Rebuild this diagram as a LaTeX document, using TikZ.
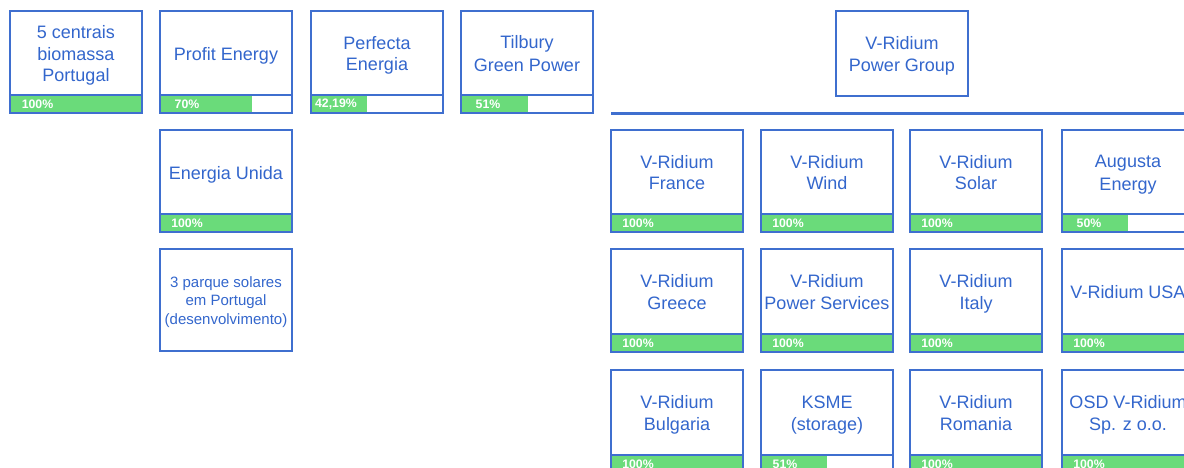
\documentclass[tikz,border=0pt]{standalone}
\usepackage{fontspec}
\setmainfont{Liberation Sans}
\usepackage{tikz}
\definecolor{rahmenblau}{RGB}{63,111,207}
\definecolor{textblau}{RGB}{51,102,204}
\definecolor{balkengruen}{RGB}{106,219,122}
\newcommand{\zg}{\rule[-3.6pt]{0pt}{21.5pt}}
\newcommand{\zk}{\rule[-3.4pt]{0pt}{18.5pt}}
\tikzset{
  rahmen/.style={draw=rahmenblau, line width=1.6pt},
  balken/.style={fill=balkengruen},
  firma/.style={text=textblau, align=center, inner sep=0pt, font=\fontsize{18}{21.5}\selectfont},
  firmaklein/.style={text=textblau, align=center, inner sep=0pt, font=\fontsize{15}{18.5}\selectfont},
  anteil/.style={text=white, font=\bfseries\fontsize{12.3}{14}\selectfont}
}

\begin{document}
\begin{tikzpicture}[x=1pt,y=-1pt] % boxbreite=132, boxhoehe=102
\useasboundingbox (0,0) rectangle (1184,468);
\clip (0,0) rectangle (1184,468);

%ZEILE NR. 0 (von oben)

%ELEMENT IN SPALTE NR. 0 (von links)
\fill [balken] (10,95) rectangle (142,113);
\draw [rahmen] (10,11) rectangle (142,113);
\draw [rahmen] (10,95) -- (142,95);
\node [firma] (bio) at (76,53) {\zg 5 centrais\\\zg biomassa\\\zg Portugal};
\node [anteil] (biopct) at (37.5,104) {100\%};

%ELEMENT IN SPALTE NR. 1 (von links)
\fill [balken] (160,95) rectangle (252.4,113);
\draw [rahmen] (160,11) rectangle (292,113);
\draw [rahmen] (160,95) -- (292,95);
\node [firma] (profit) at (226,53) {\zg Profit Energy};
\node [anteil] (profitpct) at (187,104) {70\%};

%ELEMENT IN SPALTE NR. 2 (von links)
\fill [balken] (311,95) rectangle (366.7,113);
\draw [rahmen] (311,11) rectangle (443,113);
\draw [rahmen] (311,95) -- (443,95);
\node [firma] (perfecta) at (377,53) {\zg Perfecta\\\zg Energia};
\node [anteil] (perfectapct) at (336,104) {42,19\%};

%ELEMENT IN SPALTE NR. 3 (von links)
\fill [balken] (461,95) rectangle (528.3,113);
\draw [rahmen] (461,11) rectangle (593,113);
\draw [rahmen] (461,95) -- (593,95);
\node [firma] (tilbury) at (527,53) {\zg Tilbury\\\zg Green Power};
\node [anteil] (tilburypct) at (488,104) {51\%};

%MUTTERGESELLSCHAFT
\draw [rahmen] (836,11) rectangle (968,96);
\node [firma] (group) at (902,53.5) {\zg V-Ridium\\\zg Power Group};
\draw [rahmenblau, line width=3.3pt] (611,113.3) -- (1184,113.3);




%ZEILE NR. 1 (von oben)

%ELEMENT IN SPALTE NR. 1 (von links)
\fill [balken] (160,214) rectangle (292,232);
\draw [rahmen] (160,130) rectangle (292,232);
\draw [rahmen] (160,214) -- (292,214);
\node [firma] (unida) at (226,172) {\zg Energia Unida};
\node [anteil] (unidapct) at (187,223) {100\%};

%ELEMENT IN SPALTE NR. 4 (von links)
\fill [balken] (611,214) rectangle (743,232);
\draw [rahmen] (611,130) rectangle (743,232);
\draw [rahmen] (611,214) -- (743,214);
\node [firma] (france) at (677,172) {\zg V-Ridium\\\zg France};
\node [anteil] (francepct) at (638,223) {100\%};

%ELEMENT IN SPALTE NR. 5 (von links)
\fill [balken] (761,214) rectangle (893,232);
\draw [rahmen] (761,130) rectangle (893,232);
\draw [rahmen] (761,214) -- (893,214);
\node [firma] (wind) at (827,172) {\zg V-Ridium\\\zg Wind};
\node [anteil] (windpct) at (788,223) {100\%};

%ELEMENT IN SPALTE NR. 6 (von links)
\fill [balken] (910,214) rectangle (1042,232);
\draw [rahmen] (910,130) rectangle (1042,232);
\draw [rahmen] (910,214) -- (1042,214);
\node [firma] (solar) at (976,172) {\zg V-Ridium\\\zg Solar};
\node [anteil] (solarpct) at (937,223) {100\%};

%ELEMENT IN SPALTE NR. 7 (von links)
\fill [balken] (1062,214) rectangle (1128,232);
\draw [rahmen] (1062,130) rectangle (1194,232);
\draw [rahmen] (1062,214) -- (1194,214);
\node [firma] (augusta) at (1128,172) {\zg Augusta\\\zg Energy};
\node [anteil] (augustapct) at (1089,223) {50\%};




%ZEILE NR. 2 (von oben)

%ELEMENT IN SPALTE NR. 1 (von links)
\draw [rahmen] (160,249) rectangle (292,351);
\node [firmaklein] (parque) at (226,300) {\zk 3 parque solares\\\zk em Portugal\\\zk (desenvolvimento)};

%ELEMENT IN SPALTE NR. 4 (von links)
\fill [balken] (611,334) rectangle (743,352);
\draw [rahmen] (611,249) rectangle (743,352);
\draw [rahmen] (611,334) -- (743,334);
\node [firma] (greece) at (677,291.5) {\zg V-Ridium\\\zg Greece};
\node [anteil] (greecepct) at (638,343) {100\%};

%ELEMENT IN SPALTE NR. 5 (von links)
\fill [balken] (761,334) rectangle (893,352);
\draw [rahmen] (761,249) rectangle (893,352);
\draw [rahmen] (761,334) -- (893,334);
\node [firma] (services) at (827,291.5) {\zg V-Ridium\\\zg Power Services};
\node [anteil] (servicespct) at (788,343) {100\%};

%ELEMENT IN SPALTE NR. 6 (von links)
\fill [balken] (910,334) rectangle (1042,352);
\draw [rahmen] (910,249) rectangle (1042,352);
\draw [rahmen] (910,334) -- (1042,334);
\node [firma] (italy) at (976,291.5) {\zg V-Ridium\\\zg Italy};
\node [anteil] (italypct) at (937,343) {100\%};

%ELEMENT IN SPALTE NR. 7 (von links)
\fill [balken] (1062,334) rectangle (1194,352);
\draw [rahmen] (1062,249) rectangle (1194,352);
\draw [rahmen] (1062,334) -- (1194,334);
\node [firma] (usa) at (1128,291.5) {\zg V-Ridium USA};
\node [anteil] (usapct) at (1089,343) {100\%};




%ZEILE NR. 3 (von oben)

%ELEMENT IN SPALTE NR. 4 (von links)
\fill [balken] (611,455) rectangle (743,473);
\draw [rahmen] (611,370) rectangle (743,473);
\draw [rahmen] (611,455) -- (743,455);
\node [firma] (bulgaria) at (677,412.5) {\zg V-Ridium\\\zg Bulgaria};
\node [anteil] (bulgariapct) at (638,464) {100\%};

%ELEMENT IN SPALTE NR. 5 (von links)
\fill [balken] (761,455) rectangle (827,473);
\draw [rahmen] (761,370) rectangle (893,473);
\draw [rahmen] (761,455) -- (893,455);
\node [firma] (ksme) at (827,412.5) {\zg KSME\\\zg (storage)};
\node [anteil] (ksmepct) at (785,464) {51\%};

%ELEMENT IN SPALTE NR. 6 (von links)
\fill [balken] (910,455) rectangle (1042,473);
\draw [rahmen] (910,370) rectangle (1042,473);
\draw [rahmen] (910,455) -- (1042,455);
\node [firma] (romania) at (976,412.5) {\zg V-Ridium\\\zg Romania};
\node [anteil] (romaniapct) at (937,464) {100\%};

%ELEMENT IN SPALTE NR. 7 (von links)
\fill [balken] (1062,455) rectangle (1194,473);
\draw [rahmen] (1062,370) rectangle (1194,473);
\draw [rahmen] (1062,455) -- (1194,455);
\node [firma] (osd) at (1128,412.5) {\zg OSD V-Ridium\\\zg Sp. z o.o.};
\node [anteil] (osdpct) at (1089,464) {100\%};

\end{tikzpicture}
\end{document}
